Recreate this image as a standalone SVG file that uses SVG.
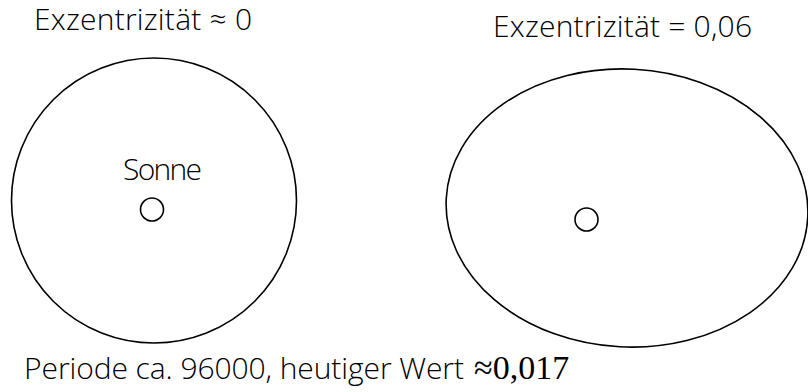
<svg xmlns="http://www.w3.org/2000/svg" width="808" height="392" viewBox="0 0 808 392">
<style>
.orb{fill:none;stroke:#000;stroke-width:1.6}
.sun{fill:#fff;stroke:#000;stroke-width:1.6}
.t{font-family:"Open Sans","Noto Sans","Liberation Sans",sans-serif;font-size:30px;font-weight:300;fill:#000}
.s{font-family:"Liberation Serif","Times New Roman",serif;font-size:34px;fill:#000}
</style>
<rect width="808" height="392" fill="#fff"/>
<g id="orbit-circle">
<circle class="orb" cx="154" cy="200.5" r="142.5"/>
</g>
<g id="orbit-ellipse">
<ellipse class="orb" cx="627" cy="208" rx="181" ry="139" transform="rotate(3 627 208)"/>
</g>
<g id="sun-left">
<circle class="sun" cx="152" cy="209.5" r="11.5"/>
<text class="t" x="123" y="180" textLength="79">Sonne</text>
</g>
<g id="sun-right">
<circle class="sun" cx="586.5" cy="219.5" r="11.5"/>
</g>
<g id="labels">
<text class="t" x="34" y="30" textLength="218">Exzentrizität ≈ 0</text>
<text class="t" x="493" y="37" textLength="259">Exzentrizität = 0,06</text>
<text class="t" x="24" y="379" textLength="440">Periode ca. 96000, heutiger Wert</text>
<text class="s" x="474" y="379">≈0,017</text>
</g>
<g id="connectors"/>
</svg>
